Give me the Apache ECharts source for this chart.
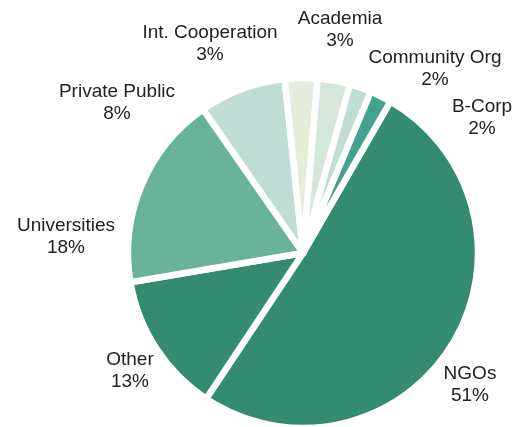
<!DOCTYPE html>
<html>
<head>
<meta charset="utf-8">
<script src="https://cdn.jsdelivr.net/npm/echarts@6/dist/echarts.min.js"></script>
<style>
html,body{margin:0;padding:0;background:#fff;}
#chart{width:514px;height:427px;}
</style>
</head>
<body>
<div id="chart"></div>
<script>
// Data (clockwise from NGOs)
var categories = ["NGOs", "Other", "Universities", "Private Public", "Int. Cooperation", "Academia", "Community Org", "B-Corp"];
var shares = [51, 13, 18, 8, 3, 3, 2, 2];
var sliceColors = ["#358b72", "#358b72", "#69b39b", "#bfddd5", "#e6ecda", "#d5e6da", "#bfddd5", "#44a08f"];

// Label placement (layout only)
var labelAnchors = [[470, 385], [130, 371], [66, 237], [117, 103], [210, 44], [340, 30], [435, 69], [482, 118]];

var chart = echarts.init(document.getElementById('chart'), null, {renderer: 'canvas'});
var data = categories.map(function (c, i) {
  return {name: c, value: shares[i], itemStyle: {color: sliceColors[i]}};
});
chart.setOption({
  animation: false,
  backgroundColor: '#ffffff',
  series: [{
    type: 'pie',
    silent: true,
    center: [303, 253],
    radius: [0, 175],
    startAngle: 60,
    clockwise: true,
    avoidLabelOverlap: false,
    itemStyle: {borderColor: '#ffffff', borderWidth: 6.5},
    label: {
      show: true,
      formatter: '{b}\n{c}%',
      fontFamily: 'Liberation Sans, Arial, sans-serif',
      fontSize: 19,
      lineHeight: 22,
      color: '#222222',
      align: 'center'
    },
    labelLine: {show: false},
    labelLayout: function (params) {
      var p = labelAnchors[params.dataIndex];
      return {x: p[0], y: p[1], align: 'center', verticalAlign: 'middle'};
    },
    data: data
  }]
});
</script>
</body>
</html>
